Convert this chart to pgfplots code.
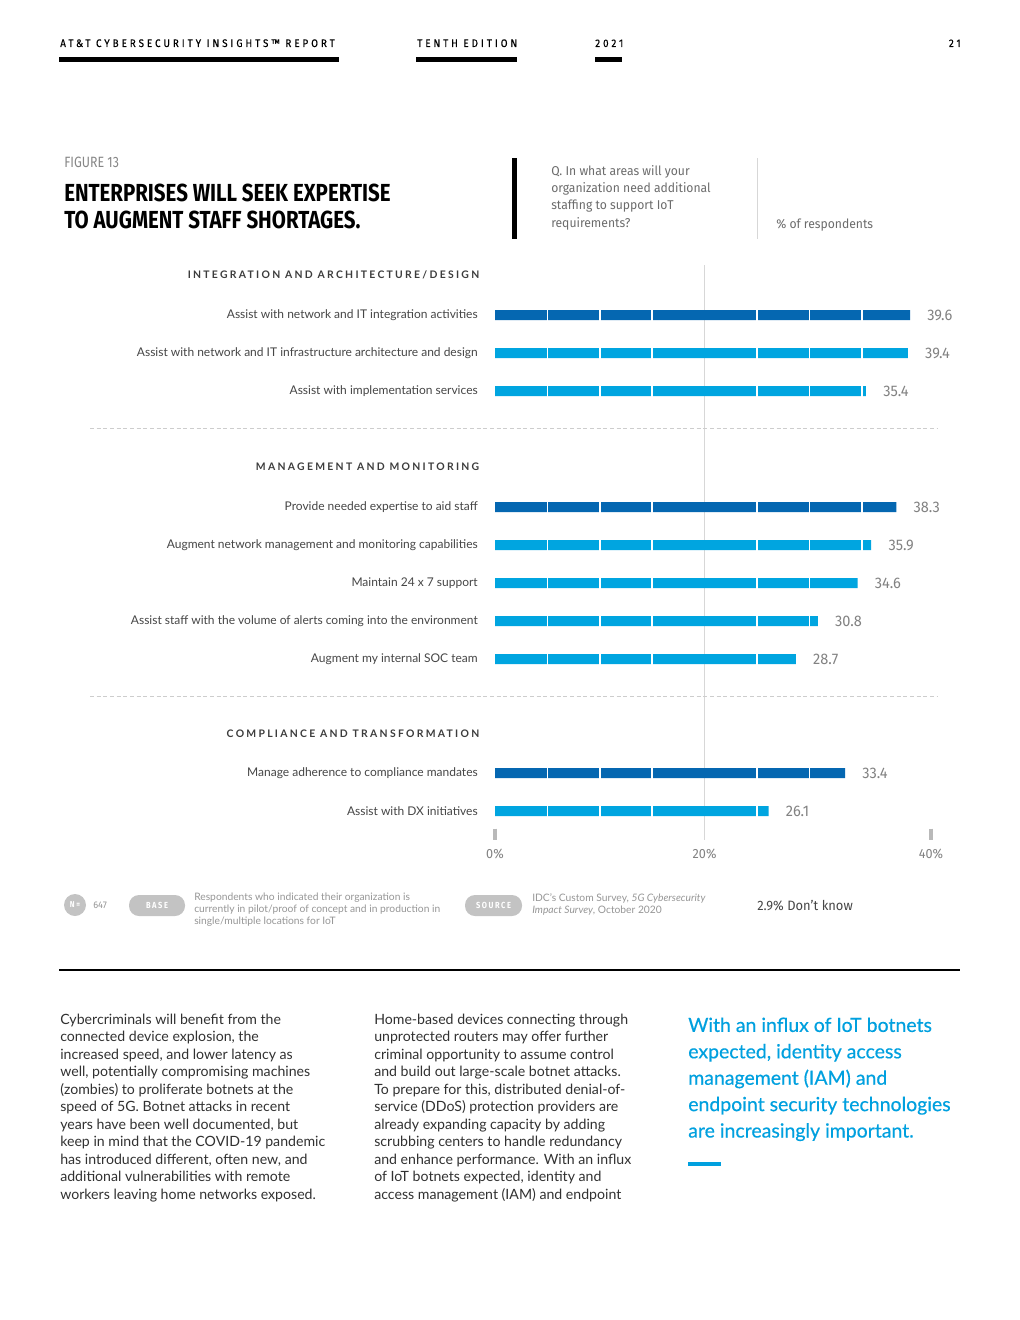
\documentclass[border=0pt]{standalone}
\usepackage{fontspec}
\usepackage{pgfplots}
\pgfplotsset{compat=1.18}
\setmainfont{Lato}
\newfontfamily\cond[FakeStretch=0.83]{Fira Sans}
\newfontfamily\condq[FakeStretch=0.95]{Fira Sans}
\newfontfamily\hdr[LetterSpace=27,FakeStretch=0.9,FakeBold=0.35]{Fira Sans}
\newfontfamily\spaced[LetterSpace=22]{Lato}
\newfontfamily\pill[LetterSpace=18,FakeStretch=0.85]{Fira Sans}
\newfontfamily\quotefont[FakeBold=0.4]{Lato}
\definecolor{darkblue}{RGB}{5,103,177}
\definecolor{lightblue}{RGB}{0,165,224}
\definecolor{quoteblue}{RGB}{0,160,223}
\definecolor{gridgray}{RGB}{215,215,215}
\definecolor{tickgray}{RGB}{185,185,185}
\definecolor{valgray}{RGB}{130,130,130}
\definecolor{textgray}{RGB}{70,70,70}
\definecolor{hdrgray}{RGB}{60,60,60}
\definecolor{figgray}{RGB}{135,135,135}
\definecolor{pillgray}{RGB}{195,195,195}
\definecolor{notegray}{RGB}{150,150,150}
\definecolor{dashgray}{RGB}{205,205,205}
\begin{document}
\begin{tikzpicture}[x=0.75pt,y=-0.75pt]
\useasboundingbox (0,0) rectangle (1020,1320);
\fill[white] (0,0) rectangle (1020,1320);
% ---------- page header
\begin{scope}[every node/.style={inner sep=0pt, font=\hdr\fontsize{8.2}{9}\selectfont, text=black}]
\node[anchor=base west] at (60,47) {AT\&T CYBERSECURITY INSIGHTS™ REPORT};
\node[anchor=base west] at (417,47) {TENTH EDITION};
\node[anchor=base west] at (595,47) {2021};
\node[anchor=base east] at (961,47) {21};
\end{scope}
\fill[black] (59,57.5) rectangle (339,62.5);
\fill[black] (416,57.5) rectangle (517,62.5);
\fill[black] (595,57.5) rectangle (622,62.5);
% ---------- figure title block
\node[anchor=base west, inner sep=0pt, text=figgray, font=\cond\fontsize{11.2}{12}\selectfont] at (64,167) {FIGURE 13};
\node[anchor=base west, inner sep=0pt, align=left, font=\cond\bfseries\fontsize{18.5}{19.6}\selectfont] at (64,228) {ENTERPRISES WILL SEEK EXPERTISE\\TO AUGMENT STAFF SHORTAGES.};
\fill[black] (511.5,158) rectangle (516.5,239);
\node[anchor=base west, inner sep=0pt, align=left, text=figgray!80!black, font=\condq\fontsize{9.6}{13}\selectfont] at (551,227) {Q. In what areas will your\\organization need additional\\staffing to support IoT\\requirements?};
\draw[gridgray, line width=0.75pt] (757.5,158) -- (757.5,239);
\node[anchor=base west, inner sep=0pt, text=figgray!80!black, font=\condq\fontsize{9.6}{13}\selectfont] at (776,228) {\% of respondents};
% ---------- chart
\begin{axis}[
  at={(371.25pt,-630pt)}, anchor=south west,
  x=7.86pt, y=0.75pt, y dir=reverse,
  xmin=0, xmax=43, ymin=265, ymax=840,
  xbar, bar width=7.5pt, bar shift=0pt,
  clip=false,
  axis line style={draw=none},
  xtick={0,41.6}, xticklabels={0\%,40\%},
  extra x ticks={20}, extra x tick labels={20\%},
  extra x tick style={grid=major, major grid style={draw=gridgray, line width=0.75pt}},
  xtick pos=bottom, tick align=inside, major tick length=0pt,
  xticklabel style={font=\condq\fontsize{10}{11}\selectfont, text=valgray, inner sep=0pt, anchor=north, yshift=-6.5pt},
  ytick={315,353,391,507,545,583,621,659,773,811},
  yticklabels={
    Assist with network and IT integration activities,
    Assist with network and IT infrastructure architecture and design,
    Assist with implementation services,
    Provide needed expertise to aid staff,
    Augment network management and monitoring capabilities,
    Maintain 24 x 7 support,
    Assist staff with the volume of alerts coming into the environment,
    Augment my internal SOC team,
    Manage adherence to compliance mandates,
    Assist with DX initiatives},
  ytick style={draw=none},
  yticklabel style={font=\fontsize{9}{10}\selectfont, text=textgray, anchor=east, inner sep=0pt, xshift=-12.75pt},
  point meta=x,
  nodes near coords={\pgfmathprintnumber[fixed,precision=1,fixed zerofill]{\pgfplotspointmeta}},
  nodes near coords style={anchor=west, inner sep=0pt, xshift=12.75pt, font=\condq\fontsize{11.5}{12}\selectfont, text=valgray},
  /pgf/number format/assume math mode=true,
]
\addplot[fill=darkblue, draw=none] coordinates {(39.6,315) (38.3,507) (33.4,773)};
\addplot[fill=lightblue, draw=none] coordinates {(39.4,353) (35.4,391) (35.9,545) (34.6,583) (30.8,621) (28.7,659) (26.1,811)};
\pgfplotsinvokeforeach{5,10,15,25}{\draw[white, line width=1.1pt] (axis cs:#1,308) -- (axis cs:#1,818);}
\draw[white, line width=1.1pt] (axis cs:30,308) -- (axis cs:30,628);
\draw[white, line width=1.1pt] (axis cs:30,766) -- (axis cs:30,780);
\draw[white, line width=1.1pt] (axis cs:35,308) -- (axis cs:35,552);
\draw[tickgray, line width=2.3pt] (axis cs:0,828.5) -- (axis cs:0,840);
\draw[tickgray, line width=2.3pt] (axis cs:41.6,828.5) -- (axis cs:41.6,840);
\end{axis}
% group headers
\begin{scope}[every node/.style={anchor=east, inner sep=0pt, text=hdrgray, font=\spaced\bfseries\fontsize{7.8}{9}\selectfont}]
\node at (479.5,275) {INTEGRATION AND ARCHITECTURE/DESIGN};
\node at (479.5,467) {MANAGEMENT AND MONITORING};
\node at (479.5,734) {COMPLIANCE AND TRANSFORMATION};
\end{scope}
\draw[dashgray, line width=0.6pt, dash pattern=on 3pt off 2pt] (90,428) -- (938,428);
\draw[dashgray, line width=0.6pt, dash pattern=on 3pt off 2pt] (90,696) -- (938,696);
% ---------- notes
\fill[pillgray] (75,905) circle (11);
\node[text=white, inner sep=0pt, font=\pill\bfseries\fontsize{6.4}{7}\selectfont] at (75,905) {N=};
\node[anchor=west, inner sep=0pt, text=notegray, font=\condq\fontsize{7.2}{8}\selectfont] at (93,905) {647};
\fill[pillgray, rounded corners=7.5pt] (129,895) rectangle (185,916);
\node[text=white, inner sep=0pt, font=\pill\bfseries\fontsize{6.6}{7}\selectfont] at (157,905.5) {BASE};
\node[anchor=north west, inner sep=0pt, align=left, text=notegray, font=\fontsize{7.7}{9}\selectfont] at (194,893) {Respondents who indicated their organization is\\currently in pilot/proof of concept and in production in\\single/multiple locations for IoT};
\fill[pillgray, rounded corners=7.5pt] (465,895) rectangle (522,916);
\node[text=white, inner sep=0pt, font=\pill\bfseries\fontsize{6.6}{7}\selectfont] at (493.5,905.5) {SOURCE};
\node[anchor=north west, inner sep=0pt, align=left, text=notegray, font=\fontsize{7.7}{9}\selectfont] at (532,893) {IDC’s Custom Survey, \textit{5G Cybersecurity}\\\textit{Impact Survey}, October 2020};
\node[anchor=west, inner sep=0pt, text=textgray, font=\condq\fontsize{10.2}{12}\selectfont] at (757,906) {2.9\% Don’t know};
% ---------- rule
\draw[black, line width=0.9pt] (59,970) -- (960,970);
% ---------- body text
\node[anchor=base west, inner sep=0pt, align=left, text=textgray!70!black, font=\fontsize{10.6}{13.125}\selectfont] at (60,1199) {Cybercriminals will benefit from the\\connected device explosion, the\\increased speed, and lower latency as\\well, potentially compromising machines\\(zombies) to proliferate botnets at the\\speed of 5G. Botnet attacks in recent\\years have been well documented, but\\keep in mind that the COVID-19 pandemic\\has introduced different, often new, and\\additional vulnerabilities with remote\\workers leaving home networks exposed.};
\node[anchor=base west, inner sep=0pt, align=left, text=textgray!70!black, font=\fontsize{10.6}{13.125}\selectfont] at (374,1199) {Home-based devices connecting through\\unprotected routers may offer further\\criminal opportunity to assume control\\and build out large-scale botnet attacks.\\To prepare for this, distributed denial-of-\\service (DDoS) protection providers are\\already expanding capacity by adding\\scrubbing centers to handle redundancy\\and enhance performance. With an influx\\of IoT botnets expected, identity and\\access management (IAM) and endpoint};
\node[anchor=base west, inner sep=0pt, align=left, text=quoteblue, font=\quotefont\fontsize{14.6}{19.8}\selectfont] at (688,1137.5) {With an influx of IoT botnets\\expected, identity access\\management (IAM) and\\endpoint security technologies\\are increasingly important.};
\fill[quoteblue] (688,1162) rectangle (721,1165.5);
\end{tikzpicture}
\end{document}
